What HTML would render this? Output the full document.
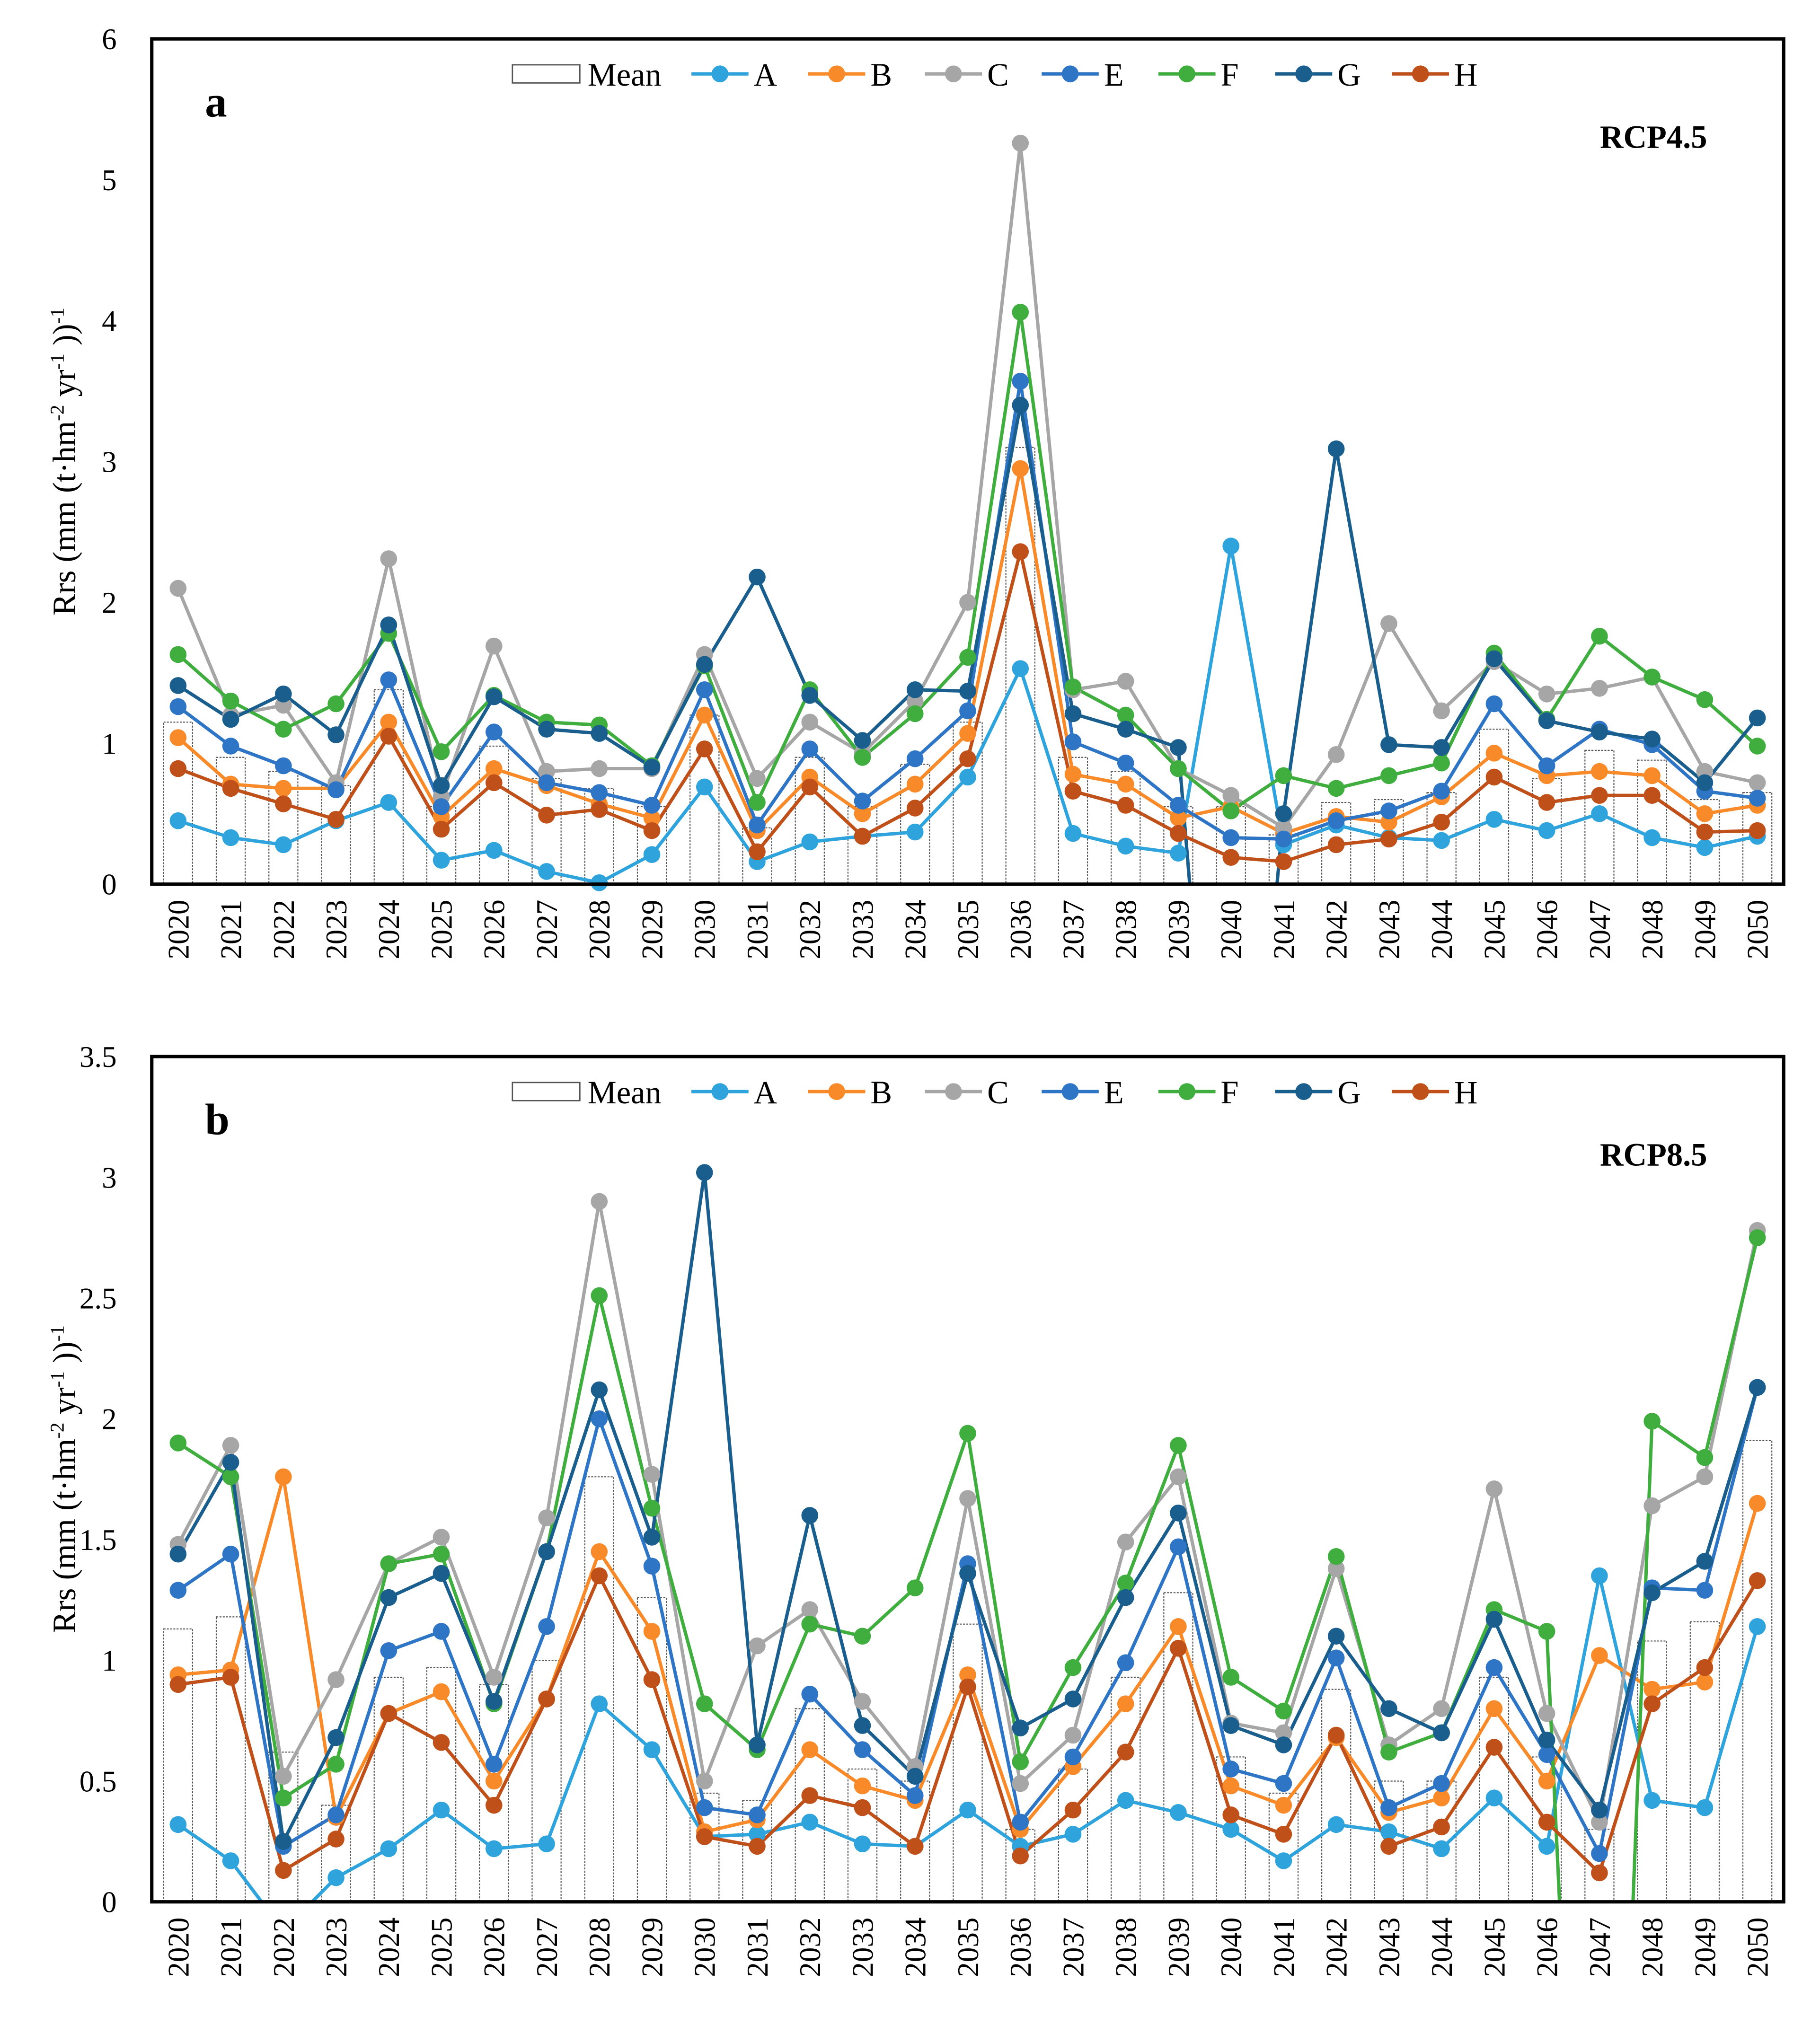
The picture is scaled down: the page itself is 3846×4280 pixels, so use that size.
<!DOCTYPE html>
<html><head><meta charset="utf-8">
<style>html,body{margin:0;padding:0;background:#fff;width:3846px;height:4280px;overflow:hidden}svg{display:block;overflow:hidden}</style></head>
<body>
<svg id="chart" width="3846" height="4280" viewBox="0 0 1403 1562" preserveAspectRatio="none" xmlns="http://www.w3.org/2000/svg" font-family="'Liberation Serif', serif"></svg>
<script>
const years = [2020,2021,2022,2023,2024,2025,2026,2027,2028,2029,2030,2031,2032,2033,2034,2035,2036,2037,2038,2039,2040,2041,2042,2043,2044,2045,2046,2047,2048,2049,2050];
const seriesNames = ["A","B","C","E","F","G","H"];
const seriesColors = ["#2ea3dc","#f98a2a","#a6a6a6","#2e75c6","#3fae3f","#1a5e8e","#c0501a"];
const ticksA = [0,1,2,3,4,5,6];
const ticksB = [0,0.5,1,1.5,2,2.5,3,3.5];
// Panel a (RCP4.5)
const meanA = [1.15,0.9,0.8,0.7,1.38,0.55,0.98,0.75,0.68,0.55,1.2,0.4,0.9,0.55,0.85,1.15,3.1,0.9,0.8,0.55,0.55,0.35,0.58,0.6,0.65,1.1,0.75,0.95,0.88,0.6,0.65];
const aA = [0.45,0.33,0.28,0.45,0.58,0.17,0.24,0.09,0.01,0.21,0.69,0.16,0.3,0.34,0.37,0.76,1.53,0.36,0.27,0.22,2.4,0.28,0.42,0.33,0.31,0.46,0.38,0.5,0.33,0.26,0.34];
const aB = [1.04,0.71,0.68,0.68,1.15,0.48,0.82,0.7,0.57,0.47,1.2,0.38,0.76,0.5,0.71,1.07,2.95,0.78,0.71,0.47,0.55,0.36,0.48,0.44,0.62,0.93,0.77,0.8,0.77,0.5,0.56];
const aC = [2.1,1.2,1.27,0.72,2.31,0.62,1.69,0.8,0.82,0.82,1.63,0.75,1.15,0.93,1.3,2.0,5.26,1.38,1.44,0.82,0.63,0.4,0.92,1.85,1.23,1.58,1.35,1.39,1.47,0.8,0.72];
const aE = [1.26,0.98,0.84,0.67,1.45,0.55,1.08,0.72,0.65,0.56,1.38,0.42,0.96,0.59,0.89,1.23,3.57,1.01,0.86,0.56,0.33,0.32,0.45,0.52,0.66,1.28,0.84,1.1,0.99,0.66,0.61];
const aF = [1.63,1.3,1.1,1.28,1.78,0.94,1.34,1.15,1.13,0.84,1.55,0.58,1.38,0.9,1.21,1.61,4.06,1.4,1.2,0.82,0.52,0.77,0.68,0.77,0.86,1.64,1.17,1.76,1.47,1.31,0.98];
const aG = [1.41,1.17,1.35,1.06,1.84,0.7,1.33,1.1,1.07,0.83,1.56,2.18,1.34,1.02,1.38,1.37,3.4,1.21,1.1,0.97,-3.5,0.5,3.09,0.99,0.97,1.6,1.16,1.08,1.03,0.72,1.18];
const aH = [0.82,0.68,0.57,0.46,1.05,0.39,0.72,0.49,0.53,0.38,0.96,0.23,0.69,0.34,0.54,0.89,2.36,0.66,0.56,0.36,0.19,0.16,0.28,0.32,0.44,0.76,0.58,0.63,0.63,0.37,0.38];
// Panel b (RCP8.5)
const meanB = [1.13,1.18,0.62,0.4,0.93,0.97,0.9,1.0,1.76,1.26,0.45,0.42,0.8,0.55,0.5,1.15,0.3,0.55,0.93,1.28,0.6,0.45,0.88,0.5,0.5,0.93,0.6,0.3,1.08,1.16,1.91];
const bA = [0.32,0.17,-0.12,0.1,0.22,0.38,0.22,0.24,0.82,0.63,0.27,0.28,0.33,0.24,0.23,0.38,0.23,0.28,0.42,0.37,0.3,0.17,0.32,0.29,0.22,0.43,0.23,1.35,0.42,0.39,1.14];
const bB = [0.94,0.96,1.76,0.35,0.78,0.87,0.5,0.84,1.45,1.12,0.29,0.34,0.63,0.48,0.42,0.94,0.3,0.56,0.82,1.14,0.48,0.4,0.68,0.37,0.43,0.8,0.5,1.02,0.88,0.91,1.65];
const bC = [1.48,1.89,0.52,0.92,1.4,1.51,0.93,1.59,2.9,1.77,0.5,1.06,1.21,0.83,0.56,1.67,0.49,0.69,1.49,1.76,0.74,0.7,1.38,0.65,0.8,1.71,0.78,0.33,1.64,1.76,2.78];
const bE = [1.29,1.44,0.23,0.36,1.04,1.12,0.57,1.14,2.0,1.39,0.39,0.36,0.86,0.63,0.44,1.4,0.33,0.6,0.99,1.47,0.55,0.49,1.01,0.39,0.49,0.97,0.61,0.2,1.3,1.29,2.13];
const bF = [1.9,1.76,0.43,0.57,1.4,1.44,0.82,1.45,2.51,1.63,0.82,0.63,1.15,1.1,1.3,1.94,0.58,0.97,1.32,1.89,0.93,0.79,1.43,0.62,0.7,1.21,1.12,-3.5,1.99,1.84,2.75];
const bG = [1.44,1.82,0.25,0.68,1.26,1.36,0.83,1.45,2.12,1.51,3.02,0.65,1.6,0.73,0.52,1.36,0.72,0.84,1.26,1.61,0.73,0.65,1.1,0.8,0.7,1.17,0.67,0.38,1.28,1.41,2.13];
const bH = [0.9,0.93,0.13,0.26,0.78,0.66,0.4,0.84,1.35,0.92,0.27,0.23,0.44,0.39,0.23,0.89,0.19,0.38,0.62,1.05,0.36,0.28,0.69,0.23,0.31,0.64,0.33,0.12,0.82,0.97,1.33];

const NS="http://www.w3.org/2000/svg";
const svg=document.getElementById('chart');
function mk(tag,attrs,parent){const e=document.createElementNS(NS,tag);for(const k in attrs)e.setAttribute(k,attrs[k]);(parent||svg).appendChild(e);return e;}

function panel(id,top,bottom,ymax,ticks,mean,series,letter,rcp){
  const L=117,R=1375;
  const g=mk('g',{});
  
  
  const band=(R-L)/years.length;
  const x=i=>L+band*(i+0.5);
  const y=v=>bottom-(v/ymax)*(bottom-top);
  ticks.forEach(t=>{
    const tx=mk('text',{x:90,y:y(t)+8,'text-anchor':'end','font-size':23},g);
    
    
    tx.textContent=String(t);
  });
  years.forEach((yr,i)=>{
    const tx=mk('text',{transform:`translate(${x(i)+8},${bottom+12}) rotate(-90)`,'text-anchor':'end','font-size':23},g);
    
    
    tx.textContent=String(yr);
  });
  const yt=mk('text',{transform:`translate(58,${(top+bottom)/2}) rotate(-90)`,'text-anchor':'middle','font-size':25},g);
  
  
  yt.innerHTML='Rrs (mm (t·hm<tspan dy="-9" font-size="15">-2</tspan><tspan dy="9"> yr</tspan><tspan dy="-9" font-size="15">-1</tspan><tspan dy="9"> ))</tspan><tspan dy="-9" font-size="15">-1</tspan>';
  const pg=mk('g',{},g);
  mean.forEach((v,i)=>{
    const w=band*0.55;
    const vv=Math.max(0,Math.min(v,ymax));
    const r=mk('rect',{x:x(i)-w/2,y:y(vv),width:w,height:y(0)-y(vv),fill:'#fff',stroke:'#555','stroke-width':0.8,'stroke-dasharray':'1.5 1'},pg);
    
    
  });
  series.forEach((vals,s)=>{
    const c=seriesColors[s];
    let d='';
    for(let i=0;i<vals.length-1;i++){
      let v0=vals[i],v1=vals[i+1],t0=0,t1=1;
      if(v0<0&&v1<0)continue;
      if(v0<0)t0=v0/(v0-v1);
      if(v1<0)t1=v0/(v0-v1);
      const xa=x(i)+band*t0, va=v0+(v1-v0)*t0;
      const xb=x(i)+band*t1, vb=v0+(v1-v0)*t1;
      d+=`M${xa.toFixed(2)},${y(va).toFixed(2)}L${xb.toFixed(2)},${y(vb).toFixed(2)}`;
    }
    const pl=mk('path',{d:d,fill:'none',stroke:c,'stroke-width':2.6,'stroke-linejoin':'round'},pg);
    
    
  });
  series.forEach((vals,s)=>{
    const c=seriesColors[s];
    vals.forEach((v,i)=>{
      if(v<0||v>ymax)return;
      const m=mk('circle',{cx:x(i),cy:y(v),r:6.5,fill:c},pg);
      
      
    });
  });
  const fr=mk('rect',{x:L,y:top,width:R-L,height:bottom-top,fill:'none',stroke:'#000','stroke-width':2.6},g);
  
  
  const lg=mk('g',{},g);
  
  
  const ly=top+27;
  const mb=mk('rect',{x:395,y:ly-7,width:52,height:14,fill:'#fff',stroke:'#555','stroke-width':1},lg);
  
  
  const mt=mk('text',{x:453,y:ly+9,'font-size':25},lg);
  
  
  mt.textContent='Mean';
  seriesNames.forEach((n,s)=>{
    const x0=533+s*90;
    const ln=mk('line',{x1:x0,y1:ly,x2:x0+44,y2:ly,stroke:seriesColors[s],'stroke-width':2.6},lg);
    
    
    mk('circle',{cx:x0+22,cy:ly,r:6.5,fill:seriesColors[s]},lg);
    const t=mk('text',{x:x0+48,y:ly+9,'font-size':25},lg);
    
    
    t.textContent=n;
  });
  const lt=mk('text',{x:158,y:top+60,'font-size':34,'font-weight':'bold'},g);
  
  
  lt.textContent=letter;
  const rt=mk('text',{x:1316,y:top+84,'font-size':25,'font-weight':'bold','text-anchor':'end'},g);
  
  
  rt.textContent=rcp;
}
panel('a',30,682,6,ticksA,meanA,[aA,aB,aC,aE,aF,aG,aH],'a','RCP4.5');
panel('b',815,1467,3.5,ticksB,meanB,[bA,bB,bC,bE,bF,bG,bH],'b','RCP8.5');
</script>
</body></html>
